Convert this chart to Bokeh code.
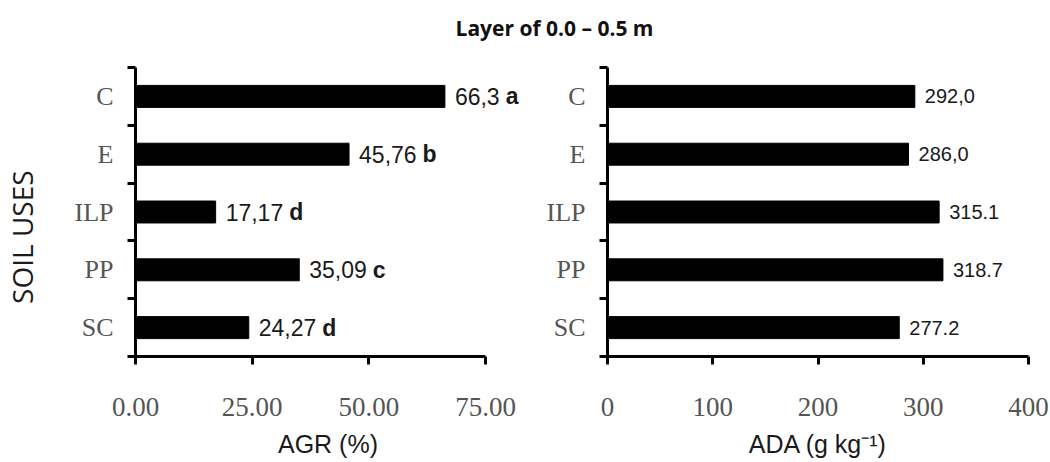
import math
from bokeh.plotting import figure
from bokeh.models import FixedTicker, Label, ColumnDataSource
from bokeh.layouts import column, row
from bokeh.embed import file_html
from bokeh.resources import INLINE
from bokeh.core.properties import value

# ---- data ----
categories = ["C", "E", "ILP", "PP", "SC"]
agr_values = [66.3, 45.76, 17.17, 35.09, 24.27]
agr_labels = ["66,3", "45,76", "17,17", "35,09", "24,27"]
agr_letters = ["a", "b", "d", "c", "d"]
ada_values = [292.0, 286.0, 315.1, 318.7, 277.2]
ada_labels = ["292,0", "286,0", "315.1", "318.7", "277.2"]
agr_ticks = [0, 25, 50, 75]
agr_tick_labels = ["0.00", "25.00", "50.00", "75.00"]
ada_ticks = [0, 100, 200, 300, 400]
ada_tick_labels = ["0", "100", "200", "300", "400"]
title_text = "Layer of 0.0 \u2013 0.5 m"
y_title = "SOIL USES"
agr_title = "AGR (%)"
ada_title = "ADA (g kg\u207b\u00b9)"

N = len(categories)
ypos = [N - i - 0.5 for i in range(N)]
bounds_ticks = list(range(N + 1))

SANS = "Liberation Sans"
PANEL_H = 414
TITLE_H = 48


def text_width(s, size):
    w = 0.0
    for ch in s:
        w += 0.278 if ch in ",." else 0.556
    return w * size


def make_panel(vals, labels, xmax, axis_end, ticks, tick_labels, xlabel,
               width, border_left, border_right, val_size, letters=None):
    p = figure(width=width, height=PANEL_H, x_range=(0, xmax), y_range=(0, N),
               output_backend="svg", toolbar_location=None,
               min_border_left=border_left, min_border_right=border_right,
               min_border_top=19, min_border_bottom=106)
    p.outline_line_color = None
    p.xgrid.visible = False
    p.ygrid.visible = False

    src = ColumnDataSource(dict(y=ypos, v=vals, lab=labels))
    p.hbar(y="y", right="v", left=0, height=0.38, source=src,
           fill_color="black", line_color="black")
    p.text(x="v", y="y", text="lab", source=src, x_offset=10,
           text_baseline="middle", text_align="left",
           text_font=value(SANS), text_font_size=f"{val_size}px",
           text_color="#1a1a1a")
    if letters is not None:
        offs = [10 + text_width(l, val_size) + 6 for l in labels]
        lsrc = ColumnDataSource(dict(y=ypos, v=vals, t=letters, off=offs))
        p.text(x="v", y="y", text="t", source=lsrc, x_offset="off",
               text_baseline="middle", text_align="left",
               text_font=value(SANS), text_font_style="bold",
               text_font_size=f"{val_size}px", text_color="#1a1a1a")

    xa = p.xaxis[0]
    xa.ticker = FixedTicker(ticks=ticks, minor_ticks=[])
    xa.major_label_overrides = {t: l for t, l in zip(ticks, tick_labels)}
    xa.bounds = (0, axis_end)
    xa.axis_line_width = 3
    xa.axis_line_color = "black"
    xa.major_tick_line_width = 3
    xa.major_tick_out = 8
    xa.major_tick_in = 0
    xa.minor_tick_line_color = None
    xa.major_label_text_font = "Liberation Serif"
    xa.major_label_text_font_size = "27px"
    xa.major_label_text_color = "#555555"
    xa.major_label_standoff = 33
    xa.axis_label = xlabel
    xa.axis_label_text_font = SANS
    xa.axis_label_text_font_size = "25px"
    xa.axis_label_text_font_style = "normal"
    xa.axis_label_text_color = "#1a1a1a"
    xa.axis_label_standoff = 11

    ya = p.yaxis[0]
    ya.ticker = FixedTicker(ticks=ypos, minor_ticks=bounds_ticks)
    ya.major_label_overrides = {y: c for y, c in zip(ypos, categories)}
    ya.axis_line_width = 3
    ya.axis_line_color = "black"
    ya.major_tick_line_color = None
    ya.major_tick_out = 0
    ya.major_tick_in = 0
    ya.minor_tick_line_color = "black"
    ya.minor_tick_line_width = 3
    ya.minor_tick_out = 8
    ya.minor_tick_in = 0
    ya.major_label_text_font = "Liberation Serif"
    ya.major_label_text_font_size = "26px"
    ya.major_label_text_color = "#555555"
    ya.major_label_standoff = 14
    return p


# side figure holding the vertical category title
ps = figure(width=48, height=PANEL_H, x_range=(0, 48), y_range=(0, PANEL_H),
            output_backend="svg", toolbar_location=None,
            x_axis_type=None, y_axis_type=None, min_border=0)
ps.outline_line_color = None
ps.xgrid.visible = False
ps.ygrid.visible = False
ps.add_layout(Label(x=21, y=171, text=y_title,
                    angle=math.pi / 2, text_align="center",
                    text_baseline="middle", text_font="Open Sans",
                    text_font_size="28px", text_color="#1a1a1a"))

p1 = make_panel(agr_values, agr_labels, 82.5, 75, agr_ticks, agr_tick_labels,
                agr_title, 477, 87, 5, 23, letters=agr_letters)
p2 = make_panel(ada_values, ada_labels, 400, 400, ada_ticks, ada_tick_labels,
                ada_title, 525, 82, 22, 20)

pt = figure(width=1050, height=TITLE_H, x_range=(0, 1050), y_range=(0, TITLE_H),
            output_backend="svg", toolbar_location=None,
            x_axis_type=None, y_axis_type=None, min_border=0)
pt.outline_line_color = None
pt.xgrid.visible = False
pt.ygrid.visible = False
pt.add_layout(Label(x=554, y=TITLE_H - 27, text=title_text, text_align="center",
                    text_baseline="middle", text_font="Open Sans",
                    text_font_style="bold", text_font_size="21px",
                    text_color="#111111"))

layout = column(pt, row(ps, p1, p2))
open("out.html", "w").write(file_html(layout, INLINE))
